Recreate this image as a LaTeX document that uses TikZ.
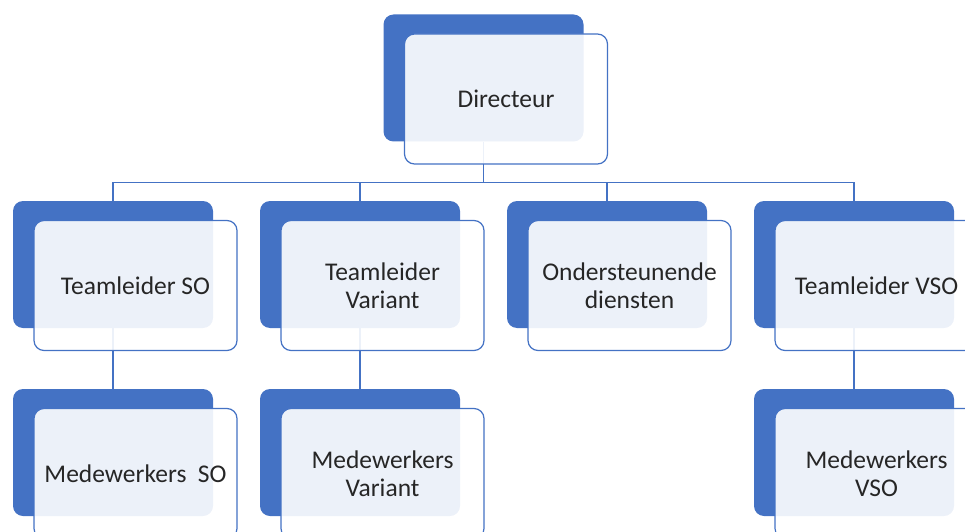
\documentclass[tikz,border=0pt]{standalone}
\usepackage{fontspec}
\setmainfont{Carlito}
\definecolor{orgblue}{HTML}{4472C4}
\definecolor{orgtext}{HTML}{262626}
\tikzset{
	backbox/.style={fill=orgblue,rounded corners=10pt,minimum width=200pt,minimum height=127pt},
	frontbox/.style={draw=orgblue,line width=1.2pt,fill=white,fill opacity=0.9,text opacity=1,text=orgtext,rounded corners=10pt,minimum width=203pt,minimum height=130pt,align=center,font=\fontsize{25.5}{28}\selectfont},
	orgline/.style={draw=orgblue,line width=1.3pt}
}
\begin{document}
\begin{tikzpicture}[x=1pt,y=1pt]
	\useasboundingbox (0,0) rectangle (965,531);
	\clip (0,0) rectangle (965,531);
	% achterste vlakken
	\node[backbox] (dir-back) at (483.5,453) {};
	\foreach \n/\x in {tlso/113,tlvar/360,ond/607,tlvso/854}{
		\node[backbox] (\n-back) at (\x,266.5) {};
	}
	\foreach \n/\x in {mwso/113,mwvar/360,mwvso/854}{
		\node[backbox] (\n-back) at (\x,78.5) {};
	}
	% lijnen
	\foreach \n in {tlso,tlvar,ond,tlvso}{
		\draw[orgline] (dir-back.south) -- ++(0,-41) -| (\n-back.north);
	}
	\foreach \a/\b in {tlso/mwso,tlvar/mwvar,tlvso/mwvso}{
		\draw[orgline] (\a-back.south) -- (\b-back.north);
	}
	% voorste vlakken
	\node[frontbox] (dir) at ([shift={(22.5,-21)}]dir-back) {Directeur};
	\node[frontbox] (tlso) at ([shift={(22.5,-21)}]tlso-back) {Teamleider SO};
	\node[frontbox] (tlvar) at ([shift={(22.5,-21)}]tlvar-back) {Teamleider\\Variant};
	\node[frontbox] (ond) at ([shift={(22.5,-21)}]ond-back) {Ondersteunende\\diensten};
	\node[frontbox] (tlvso) at ([shift={(22.5,-21)}]tlvso-back) {Teamleider VSO};
	\node[frontbox] (mwso) at ([shift={(22.5,-21)}]mwso-back) {Medewerkers~ SO};
	\node[frontbox] (mwvar) at ([shift={(22.5,-21)}]mwvar-back) {Medewerkers\\Variant};
	\node[frontbox] (mwvso) at ([shift={(22.5,-21)}]mwvso-back) {Medewerkers\\VSO};
\end{tikzpicture}
\end{document}
